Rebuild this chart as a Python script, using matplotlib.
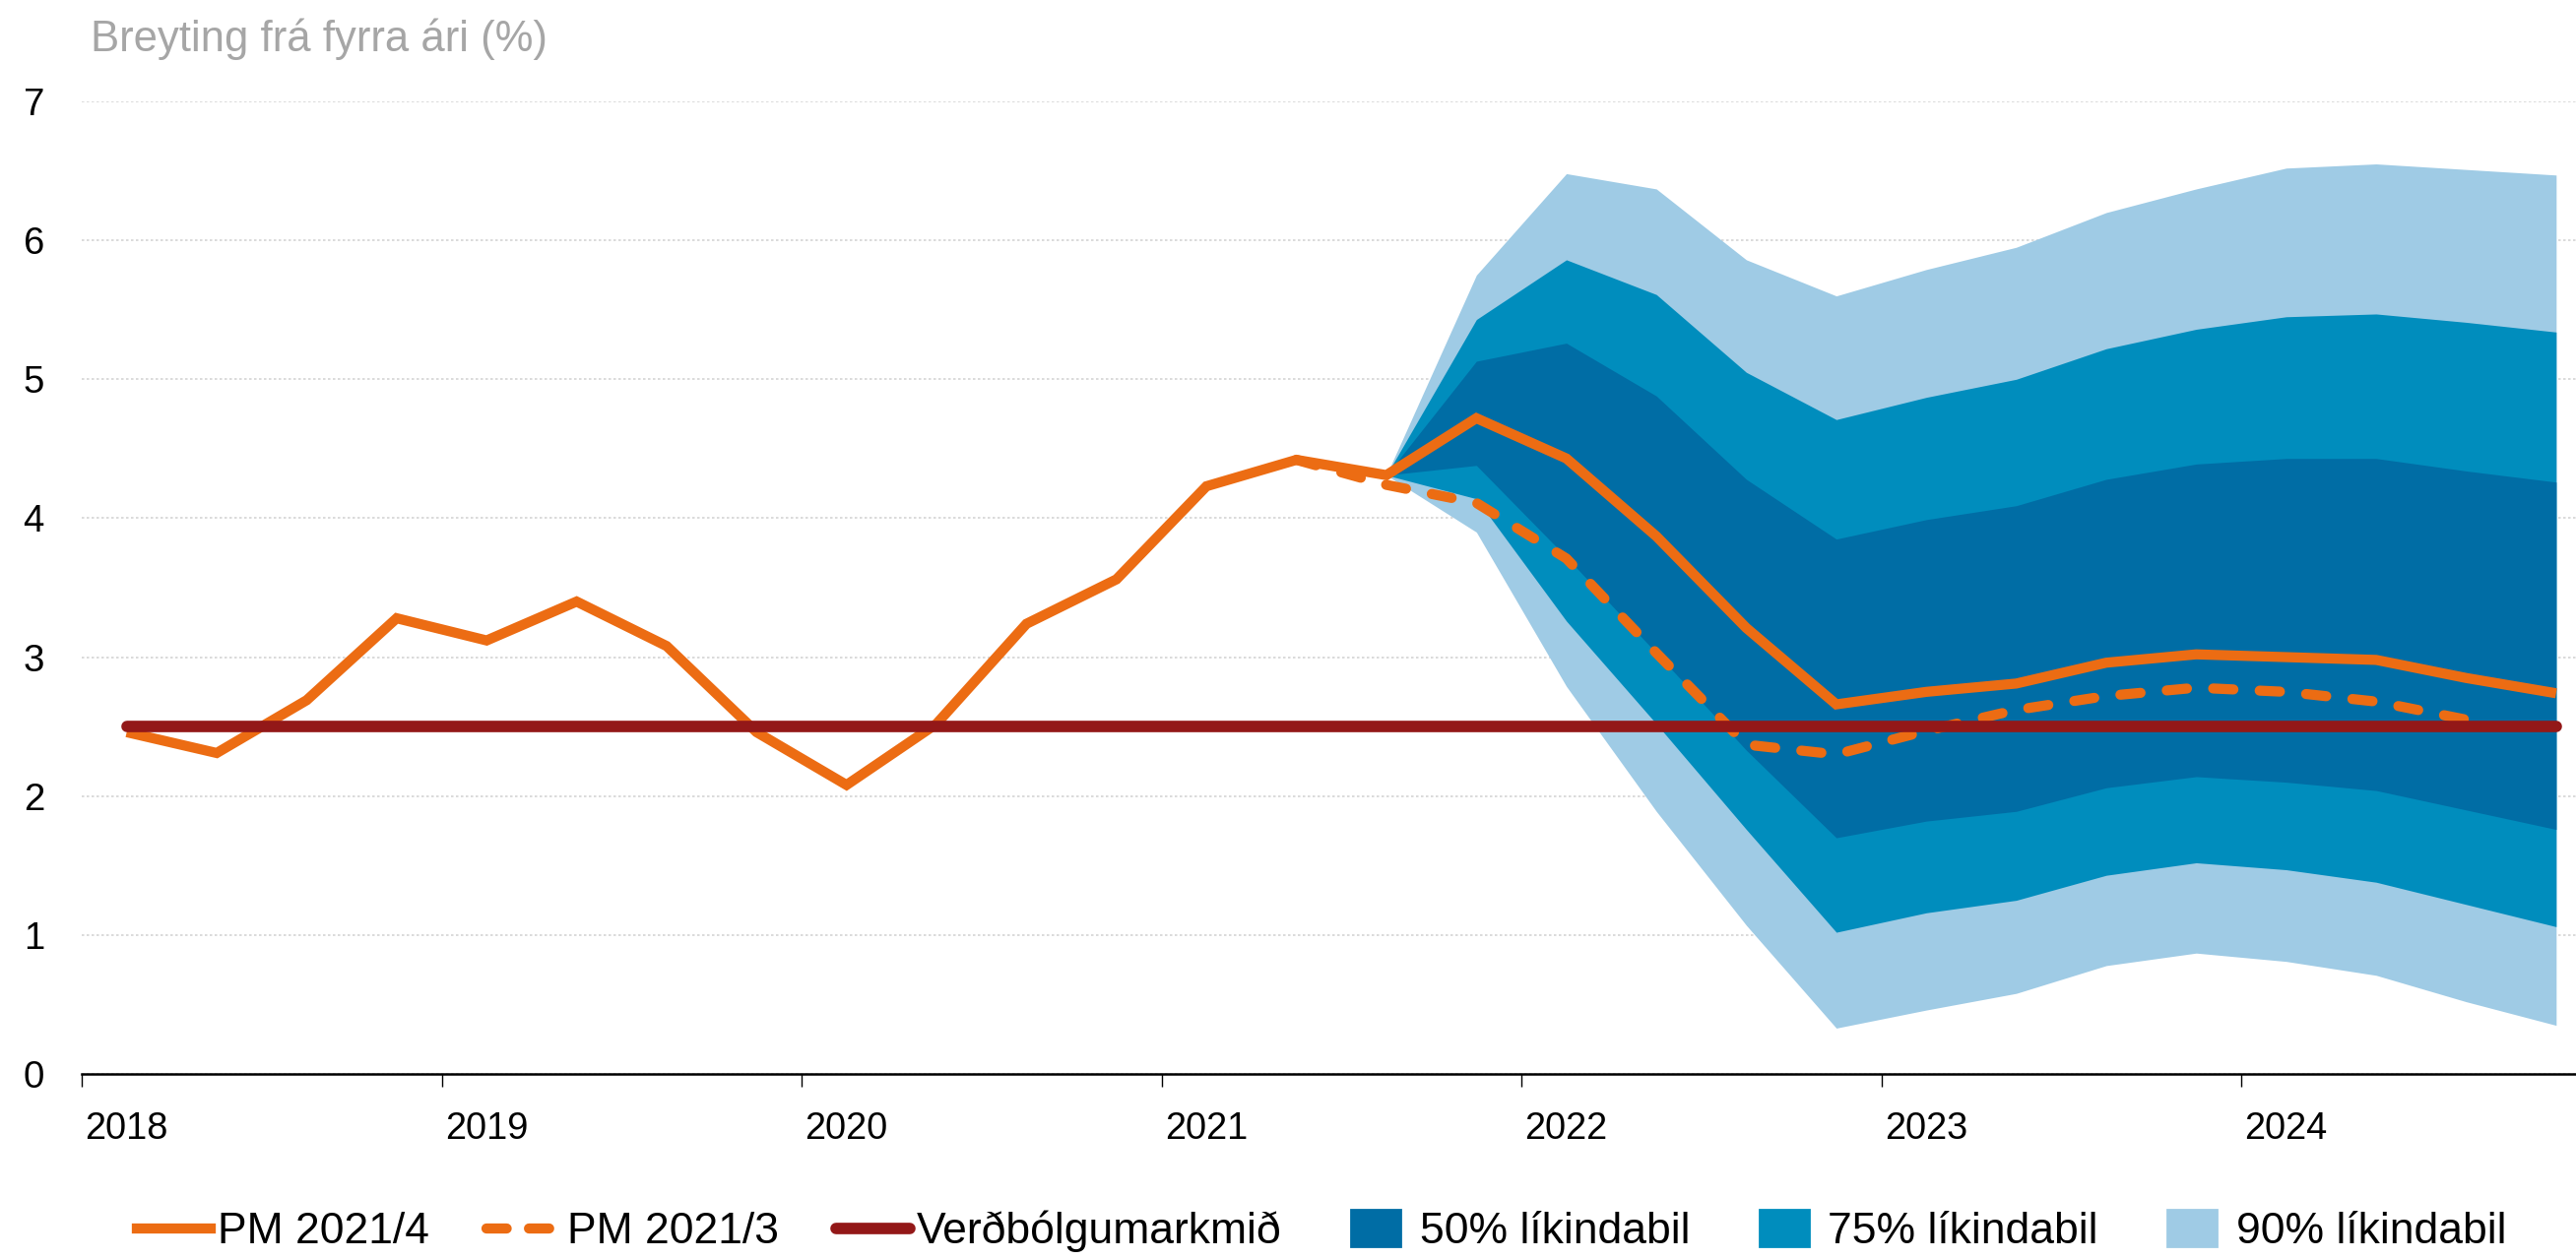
"""
Verðbólguspá PM 2021/4 með óvissubilum (fan chart)
"""

import matplotlib
matplotlib.use("Agg")
import matplotlib.pyplot as plt
import matplotlib.patches as mpatches
from matplotlib.lines import Line2D
from matplotlib.legend_handler import HandlerPatch
from matplotlib.ticker import FixedLocator, NullFormatter, FixedFormatter

plt.rcParams["font.family"] = ["Liberation Sans", "DejaVu Sans"]

# ársfjórðungar 2018F1 - 2024F4
years = [2018, 2019, 2020, 2021, 2022, 2023, 2024]
quarters = [f"{y}F{q}" for y in years for q in (1, 2, 3, 4)]

pm_2021_4 = [2.46, 2.31, 2.69, 3.28,
             3.12, 3.40, 3.08, 2.46,
             2.08, 2.52, 3.24, 3.56,
             4.23, 4.42, 4.31, 4.72,
             4.43, 3.87, 3.21, 2.66,
             2.75, 2.81, 2.96, 3.02,
             3.00, 2.98, 2.85, 2.74]

# PM 2021/3 frá 2021F2 til 2024F3
pm_2021_3_start = "2021F2"
pm_2021_3 = [4.42, 4.24, 4.11, 3.71, 3.03, 2.37, 2.30,
             2.47, 2.62, 2.72, 2.78, 2.75, 2.68, 2.55]

inflation_target = 2.5

# líkindabil frá 2021F3 til 2024F4
fan_start = "2021F3"
q90_hi = [4.31, 5.75, 6.48, 6.37, 5.86, 5.60, 5.79, 5.95, 6.20, 6.37, 6.52, 6.55, 6.51, 6.47]
q75_hi = [4.31, 5.43, 5.86, 5.61, 5.05, 4.71, 4.87, 5.00, 5.22, 5.36, 5.45, 5.47, 5.41, 5.34]
q50_hi = [4.31, 5.13, 5.26, 4.88, 4.28, 3.85, 3.99, 4.09, 4.28, 4.39, 4.43, 4.43, 4.34, 4.26]
q50_lo = [4.31, 4.38, 3.72, 3.03, 2.33, 1.70, 1.82, 1.89, 2.06, 2.14, 2.10, 2.04, 1.90, 1.76]
q75_lo = [4.31, 4.14, 3.26, 2.52, 1.76, 1.02, 1.16, 1.25, 1.43, 1.52, 1.47, 1.38, 1.22, 1.06]
q90_lo = [4.31, 3.90, 2.79, 1.89, 1.07, 0.33, 0.46, 0.58, 0.78, 0.87, 0.81, 0.71, 0.52, 0.35]

C_ORANGE = "#EC6C13"
C_RED = "#931818"
C_50 = "#006DA5"
C_75 = "#008DBD"
C_90 = "#9FCBE5"

LW_PM = 3.7
LW_TARGET = 4.2


def qpos(label):
    """miðja ársfjórðungs á ársás"""
    y, q = label.split("F")
    return int(y) + (int(q) - 0.5) / 4


x_all = [qpos(q) for q in quarters]
i3 = quarters.index(pm_2021_3_start)
x_pm3 = x_all[i3:i3 + len(pm_2021_3)]
i_fan = quarters.index(fan_start)
x_fan = x_all[i_fan:i_fan + len(q90_hi)]

W, H, DPI = 2616, 1279, 200
fig = plt.figure(figsize=(W / DPI, H / DPI), dpi=DPI)
ax = fig.add_axes([83 / W, (H - 1091) / H, 1 - 83 / W, (1091 - 103) / H])

# líkindabil
ax.fill_between(x_fan, q90_lo, q90_hi, color=C_90, lw=0, zorder=1)
ax.fill_between(x_fan, q75_lo, q75_hi, color=C_75, lw=0, zorder=2)
ax.fill_between(x_fan, q50_lo, q50_hi, color=C_50, lw=0, zorder=3)

ax.plot(x_pm3, pm_2021_3, color=C_ORANGE, lw=LW_PM, dashes=(2.0, 2.6),
        dash_capstyle="round", zorder=4)
ax.plot(x_all, pm_2021_4, color=C_ORANGE, lw=LW_PM, solid_joinstyle="miter",
        solid_capstyle="butt", zorder=5)
ax.plot([x_all[0], x_all[-1]], [inflation_target, inflation_target],
        color=C_RED, lw=LW_TARGET, solid_capstyle="round", zorder=6)

ax.set_xlim(years[0], years[0] + (W - 83) / 365.5)
ax.set_ylim(0, 7)

# ás
for side in ("top", "right", "left"):
    ax.spines[side].set_visible(False)
ax.spines["bottom"].set_linewidth(0.9)
ax.spines["bottom"].set_color("black")

ax.xaxis.set_major_locator(FixedLocator(years))
ax.xaxis.set_major_formatter(NullFormatter())
ax.xaxis.set_minor_locator(FixedLocator([y + 0.125 for y in years]))
ax.xaxis.set_minor_formatter(FixedFormatter([str(y) for y in years]))
ax.tick_params(axis="x", which="major", length=4.7, width=0.5, color="black")
ax.tick_params(axis="x", which="minor", length=0, pad=13.8, labelsize=13.7)

ax.set_yticks(range(0, 8))
ax.tick_params(axis="y", length=0, pad=13.7, labelsize=13.8)

ax.yaxis.grid(True, color="#D4D4D4", lw=0.6, linestyle=(0, (1.5, 1.5)))
ax.set_axisbelow(True)

fig.text(92 / W, 1 - 52 / H, "Breyting frá fyrra ári (%)", fontsize=15.7,
         color="#A6A6A6", va="baseline", ha="left")


# legend
def make_box(legend, orig_handle, xdescent, ydescent, width, height, fontsize):
    w = 0.66 * width
    return mpatches.Rectangle((-xdescent + (width - w) / 2, -ydescent - 0.1 * height),
                              w, height * 1.2)


handles = [
    Line2D([], [], color=C_ORANGE, lw=LW_PM),
    Line2D([], [], color=C_ORANGE, lw=LW_PM, dashes=(2.0, 2.2), dash_capstyle="round"),
    Line2D([], [], color=C_RED, lw=LW_TARGET, solid_capstyle="round"),
    mpatches.Patch(color=C_50),
    mpatches.Patch(color=C_75),
    mpatches.Patch(color=C_90),
]
labels = ["PM 2021/4", "PM 2021/3", "Verðbólgumarkmið",
          "50% líkindabil", "75% líkindabil", "90% líkindabil"]
hp = HandlerPatch(patch_func=make_box)
fig.legend(handles, labels, loc="center", bbox_to_anchor=(0.513, 0.022),
           ncol=6, frameon=False, fontsize=16, handlelength=1.7,
           handletextpad=0.15, columnspacing=1.3, borderaxespad=0,
           handler_map={mpatches.Patch: hp})

fig.savefig("out.png", dpi=DPI)
plt.close(fig)
